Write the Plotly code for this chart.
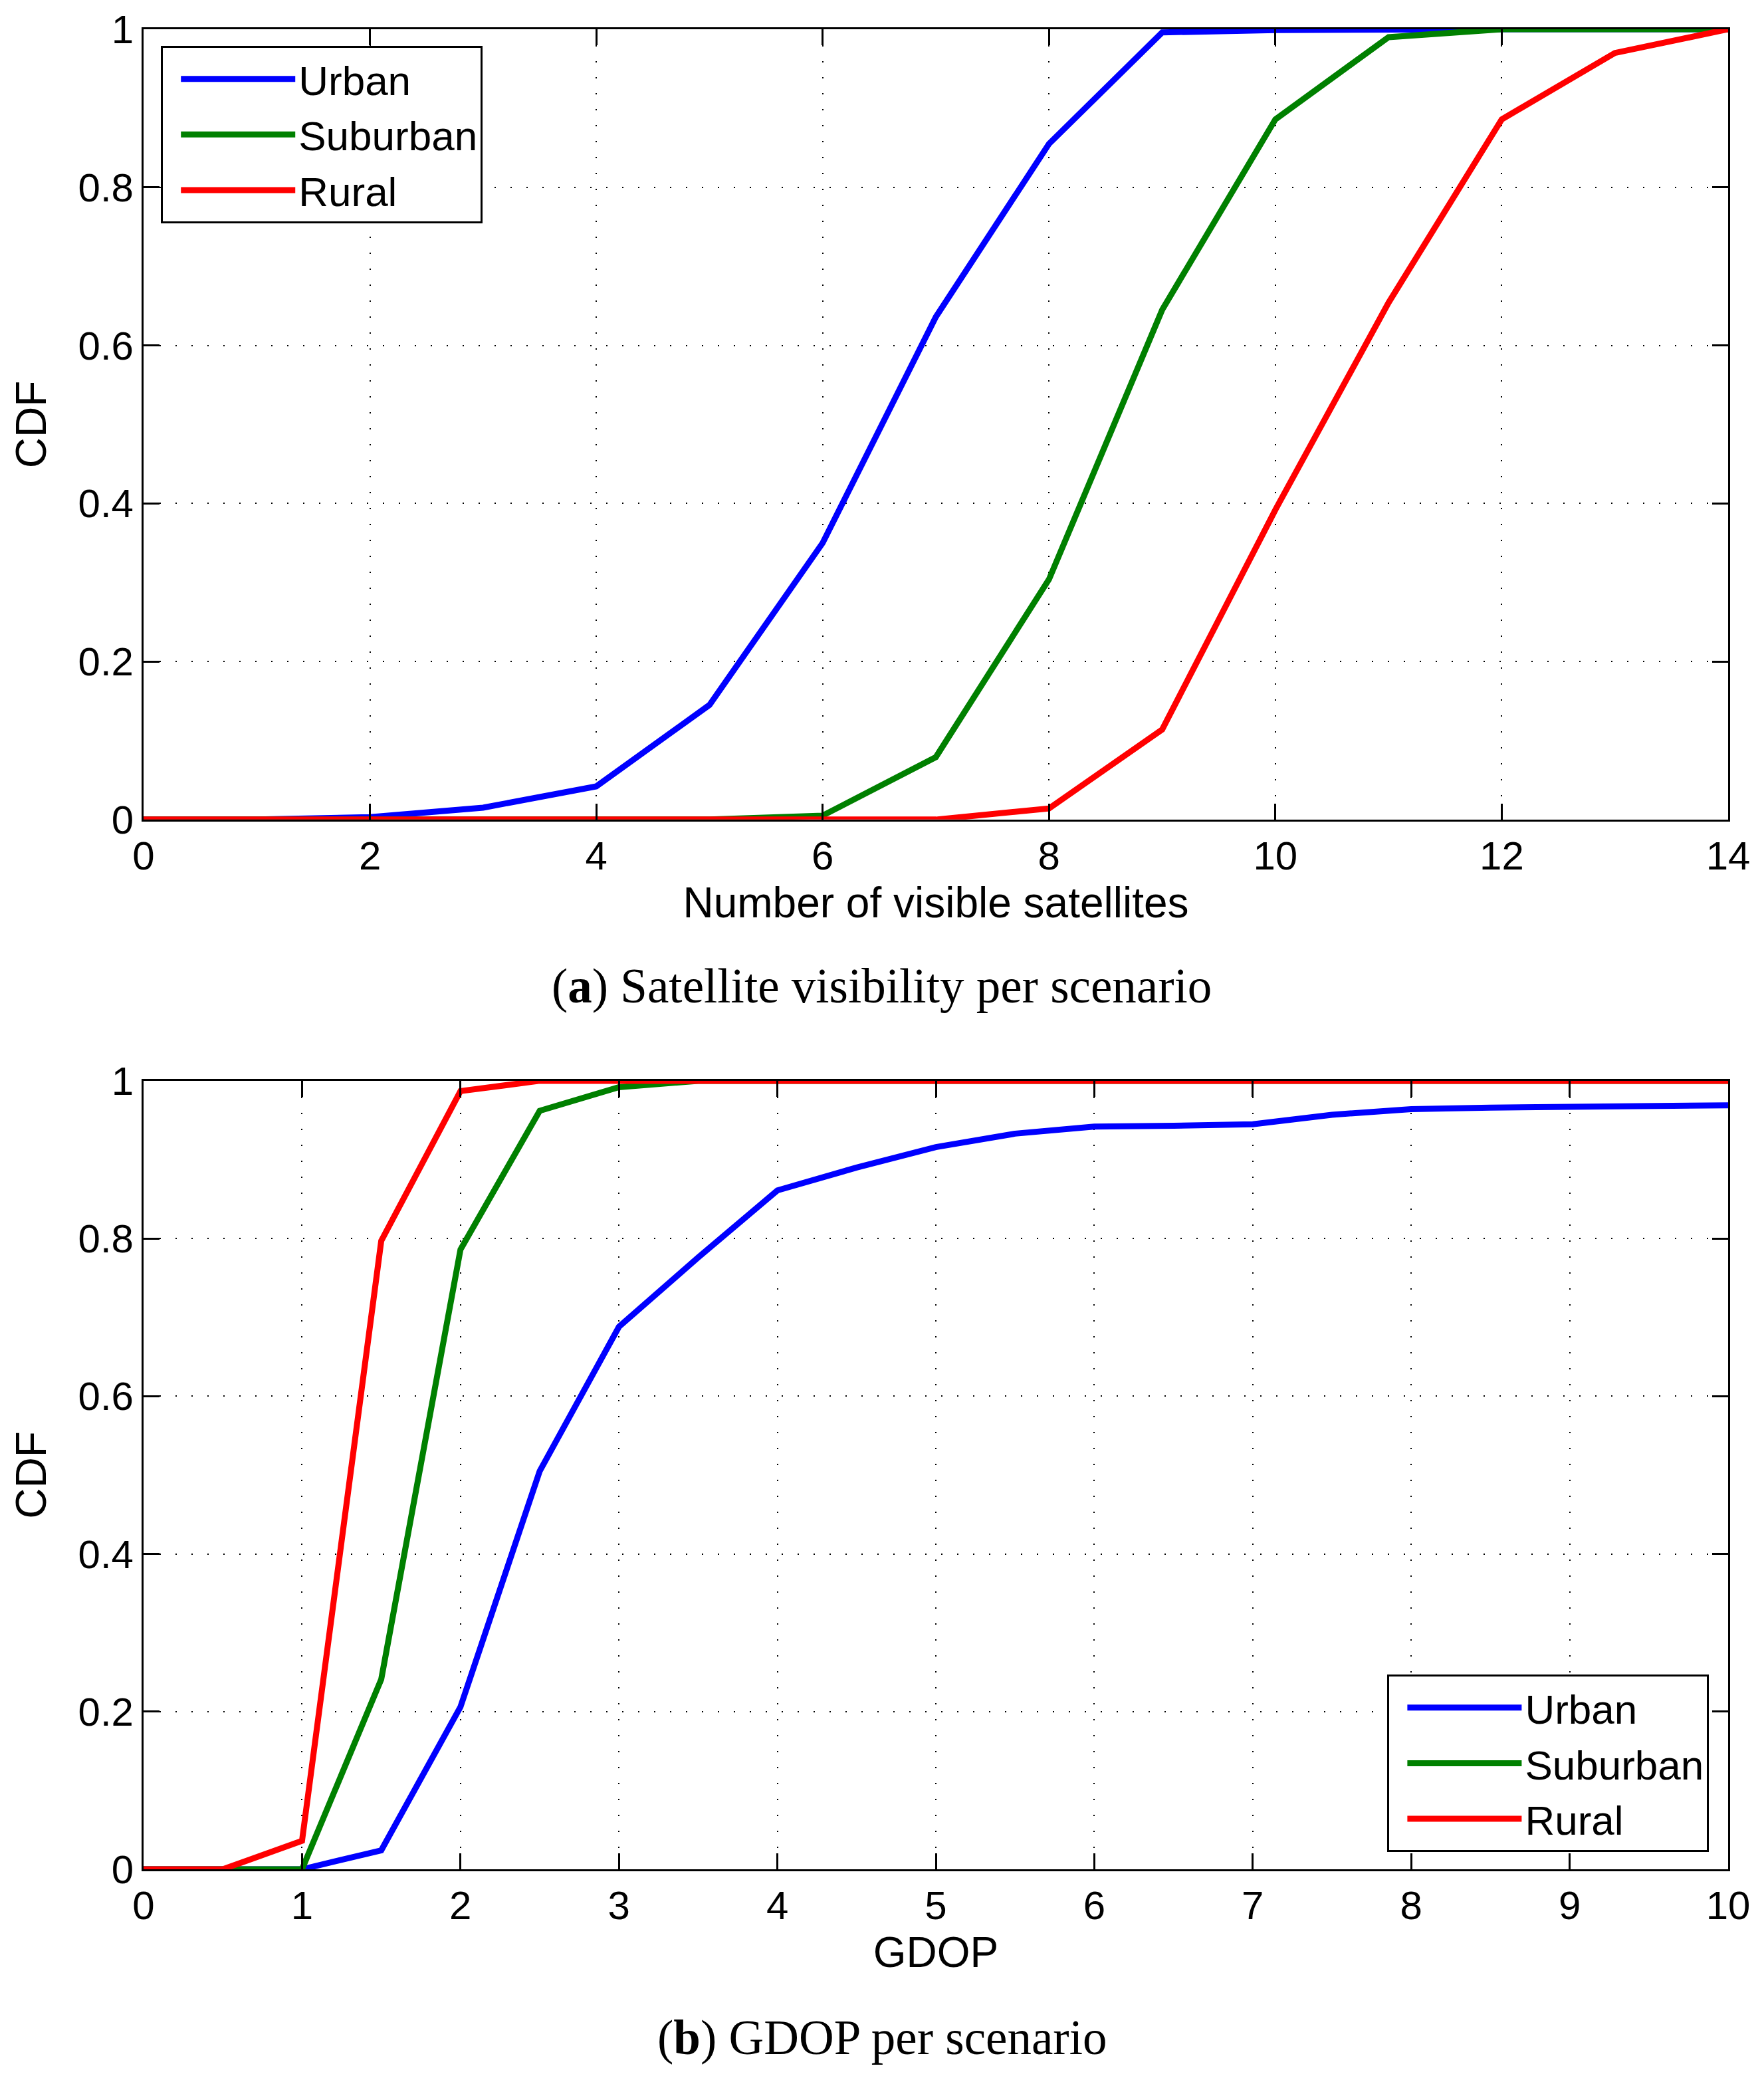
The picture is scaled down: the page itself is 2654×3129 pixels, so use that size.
import plotly.graph_objects as go
from plotly.subplots import make_subplots

# (a) number of visible satellites
sat_x = [0, 1, 2, 3, 4, 5, 6, 7, 8, 9, 10, 11, 12, 13, 14]
urban_sat = [0, 0, 0.003, 0.015, 0.042, 0.145, 0.350, 0.636, 0.855, 0.996, 0.999, 1, 1, 1, 1]
suburban_sat = [0, 0, 0, 0, 0, 0, 0.005, 0.079, 0.304, 0.645, 0.886, 0.990, 1, 1, 1]
rural_sat = [0, 0, 0, 0, 0, 0, 0, 0, 0.014, 0.114, 0.392, 0.654, 0.886, 0.970, 1]

# (b) GDOP
gdop_x = [0, 0.5, 1, 1.5, 2, 2.5, 3, 3.5, 4, 4.5, 5, 5.5, 6, 6.5, 7, 7.5, 8, 8.5, 9, 9.5, 10]
urban_gdop = [0, 0, 0, 0.024, 0.206, 0.505, 0.688, 0.776, 0.861, 0.890, 0.916, 0.933, 0.942,
              0.943, 0.945, 0.957, 0.964, 0.966, 0.967, 0.968, 0.969]
suburban_gdop = [0, 0, 0, 0.241, 0.786, 0.962, 0.992, 1, 1, 1, 1, 1, 1, 1, 1, 1, 1, 1, 1, 1, 1]
rural_gdop = [0, 0, 0.036, 0.797, 0.987, 1, 1, 1, 1, 1, 1, 1, 1, 1, 1, 1, 1, 1, 1, 1, 1]

scenarios = ["Urban", "Suburban", "Rural"]
colors = ["#0000ff", "#008000", "#ff0000"]
cdf_ticks = [0, 0.2, 0.4, 0.6, 0.8, 1]
cdf_labels = ["0", "0.2", "0.4", "0.6", "0.8", "1"]
sat_ticks = [0, 2, 4, 6, 8, 10, 12, 14]
gdop_ticks = [0, 1, 2, 3, 4, 5, 6, 7, 8, 9, 10]

# page body keeps an 8px margin, so the figure is a bit smaller than the window
W, H = 2638, 3109
sans = "Liberation Sans, Arial, Helvetica, sans-serif"
serif = "Liberation Serif, Times New Roman, serif"

fig = make_subplots(rows=2, cols=1)

for name, ys, c in zip(scenarios, [urban_sat, suburban_sat, rural_sat], colors):
    fig.add_trace(go.Scatter(x=sat_x, y=ys, mode="lines", name=name,
                             line=dict(color=c, width=9), legend="legend"), row=1, col=1)
for name, ys, c in zip(scenarios, [urban_gdop, suburban_gdop, rural_gdop], colors):
    fig.add_trace(go.Scatter(x=gdop_x, y=ys, mode="lines", name=name,
                             line=dict(color=c, width=9), legend="legend2"), row=2, col=1)

axis_style = dict(
    showline=True, linecolor="black", linewidth=3, mirror="ticks",
    ticks="inside", ticklen=24, tickwidth=3, tickcolor="black",
    showgrid=True, gridcolor="black", gridwidth=2, griddash="2px,22px",
    zeroline=False, automargin=False, ticklabeloverflow="allow",
    tickfont=dict(family=sans, size=60, color="black"),
)

fig.update_xaxes(**axis_style)
fig.update_yaxes(**axis_style)

title_font = dict(family=sans, size=64, color="black")
fig.update_xaxes(range=[0, 14], tickvals=sat_ticks, domain=[0, 1],
                 title=dict(text="Number of visible satellites", standoff=16, font=title_font),
                 row=1, col=1)
fig.update_xaxes(range=[0, 10], tickvals=gdop_ticks, domain=[0, 1],
                 title=dict(text="GDOP", standoff=16, font=title_font), row=2, col=1)
fig.update_yaxes(range=[0, 1], tickvals=cdf_ticks, ticktext=cdf_labels, domain=[0.5705, 1],
                 title=dict(text="CDF", standoff=28, font=title_font), row=1, col=1)
fig.update_yaxes(range=[0, 1], tickvals=cdf_ticks, ticktext=cdf_labels, domain=[0, 0.4285],
                 title=dict(text="CDF", standoff=28, font=title_font), row=2, col=1)

legend_style = dict(
    bgcolor="white", bordercolor="black", borderwidth=3,
    font=dict(family=sans, size=62, color="black"),
    itemwidth=172, indentation=22, tracegroupgap=0,
)

fig.update_layout(
    width=W, height=H,
    margin=dict(l=208, r=46, t=36, b=305, autoexpand=False),
    paper_bgcolor="white", plot_bgcolor="white",
    showlegend=True,
    legend=dict(x=0.011, y=0.991, xanchor="left", yanchor="top", **legend_style),
    legend2=dict(x=0.988, y=0.0094, xanchor="right", yanchor="bottom", **legend_style),
    annotations=[
        dict(text="(<b>a</b>) Satellite visibility per scenario", x=0.466, y=0.480,
             xref="paper", yref="paper", xanchor="center", yanchor="middle", showarrow=False,
             font=dict(family=serif, size=73, color="black")),
        dict(text="(<b>b</b>) GDOP per scenario", x=0.466, y=-0.0916,
             xref="paper", yref="paper", xanchor="center", yanchor="middle", showarrow=False,
             font=dict(family=serif, size=73, color="black")),
    ],
)

fig.write_html("out.html")
